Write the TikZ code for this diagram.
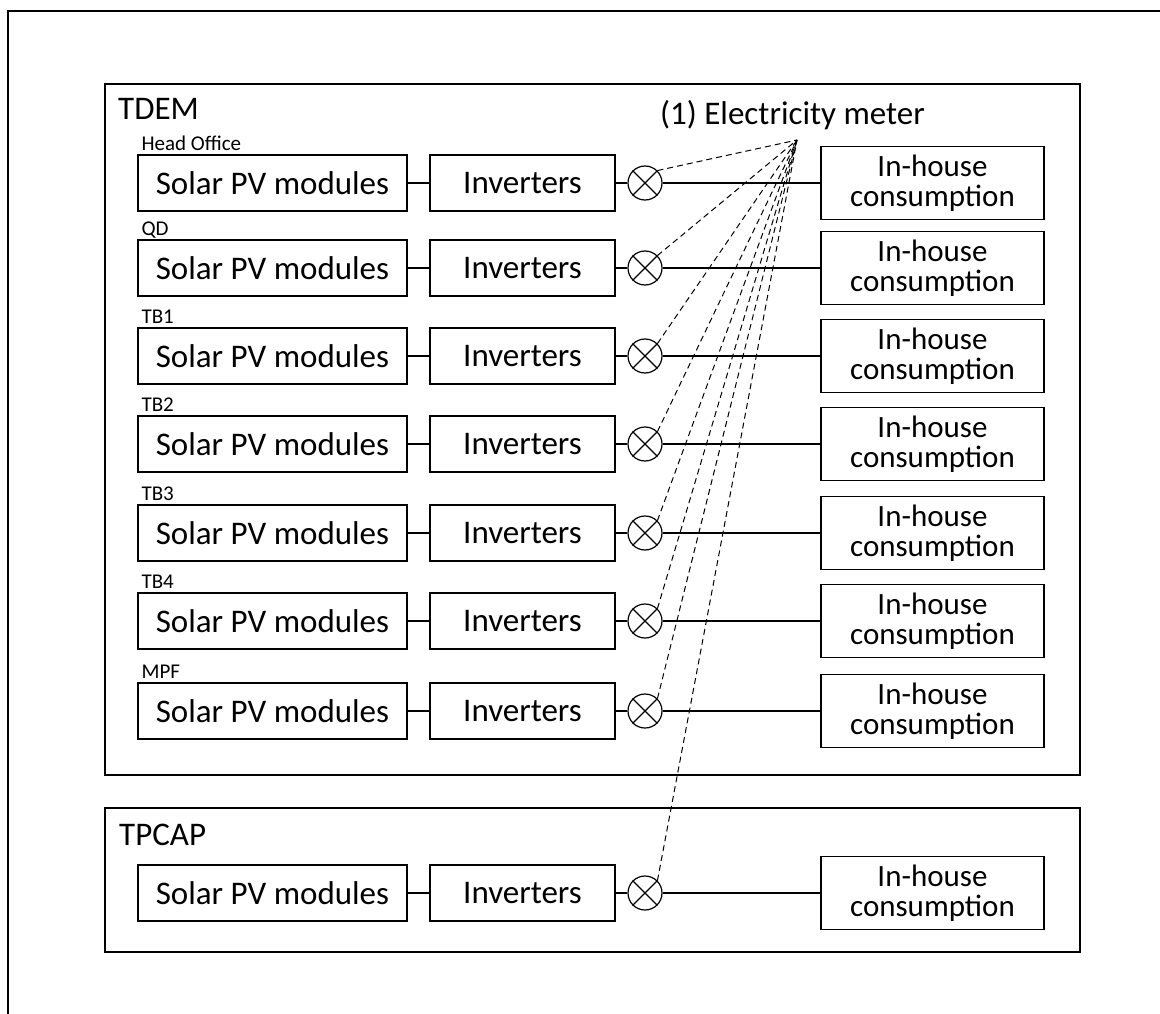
\documentclass[tikz,border=0pt]{standalone}
\usepackage{fontspec}
\setmainfont{Carlito}
\newcommand{\bigfont}{\fontsize{33}{29}\selectfont}
\newcommand{\loadfont}{\fontsize{31}{30}\selectfont}
\newcommand{\tagfont}{\fontsize{21}{22}\selectfont}
\tikzset{
  unitbox/.style={draw,line width=1.3pt,minimum height=56pt,inner sep=0pt,font=\bigfont},
  meterdot/.style={draw,circle,line width=1.2pt,minimum size=34pt,inner sep=0pt},
  link/.style={line width=1.3pt},
  readout/.style={line width=1pt,dash pattern=on 6pt off 4pt}
}
\begin{document}
\begin{tikzpicture}[x=1pt,y=-1pt]
\useasboundingbox (0,0) rectangle (1160,1014);
\draw[line width=2pt] (8,1020) |- (1170,11);
\draw[line width=1.3pt] (105,84) rectangle (1080,775);
\draw[line width=1.3pt] (105,808) rectangle (1080,952);
\node[anchor=base west,font=\bigfont,inner sep=0pt] (tdem) at (118,120) {TDEM};
\node[anchor=base west,font=\bigfont,inner sep=0pt] (tpcap) at (119,845) {TPCAP};
\node[anchor=base west,font=\bigfont,inner sep=0pt] (meterlbl) at (660,125) {(1) Electricity meter};
\coordinate (hub) at (797,140);
\foreach \y/\site [count=\i] in {183/Head Office,268/QD,356/TB1,444/TB2,533/TB3,621/TB4,711/MPF,893/}
{
  \node[unitbox,minimum width=269pt] (pv\i) at (272.5,\y) {Solar PV modules};
  \node[unitbox,minimum width=185pt] (inv\i) at (522.5,\y) {Inverters};
  \node[meterdot] (m\i) at (645,\y) {};
  \node[unitbox,minimum width=223pt,minimum height=73pt,align=center,font=\loadfont] (use\i) at (932.5,\y) {In-house\\consumption};
  \node[anchor=base west,font=\tagfont,inner sep=0pt] (tag\i) at ([xshift=4pt,yshift=4pt]pv\i.north west) {\site};
  \draw[link] (pv\i) -- (inv\i) (inv\i) -- (m\i) (m\i) -- (use\i);
  \draw[link] (m\i.north east) -- (m\i.south west) (m\i.north west) -- (m\i.south east);
  \draw[readout] (m\i.north east) -- (hub);
}
\end{tikzpicture}
\end{document}
